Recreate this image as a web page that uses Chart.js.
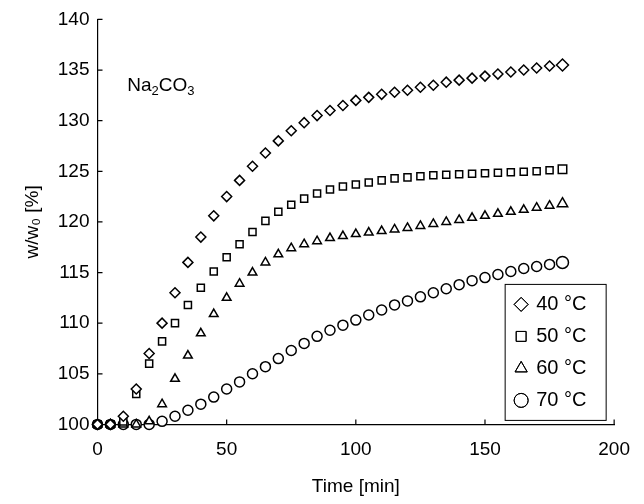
<!DOCTYPE html>
<html>
<head>
<meta charset="utf-8">
<script src="https://cdn.jsdelivr.net/npm/chart.js@4/dist/chart.umd.min.js"></script>
<style>
  body { margin: 0; background: #fff; }
  #wrap { width: 644px; height: 504px; }
</style>
</head>
<body>
<div id="wrap"><canvas id="myChart" width="644" height="504"></canvas></div>
<script>
// time in minutes, every 5 min
var times = [];
for (var t = 0; t <= 180; t += 5) times.push(t);

var labels = ['40 °C', '50 °C', '60 °C', '70 °C'];
var styles = ['rectRot', 'rect', 'triangle', 'circle'];

var w40 = [100,100,100.8,103.5,107,110,113,116,118.5,120.6,122.5,124.1,125.5,126.8,128,129,129.8,130.5,131,131.5,132,132.3,132.6,132.8,133,133.3,133.5,133.8,134,134.2,134.4,134.6,134.8,135,135.2,135.4,135.5];
var w50 = [100,100,100.3,103,106,108.2,110,111.8,113.5,115.1,116.5,117.8,119,120.1,121,121.7,122.3,122.8,123.2,123.5,123.7,123.9,124.1,124.3,124.4,124.5,124.6,124.65,124.7,124.75,124.8,124.85,124.9,124.95,125,125.1,125.2];
var w60 = [100,100,100,100,100.3,102,104.5,106.8,109,110.9,112.5,113.9,115,116,116.8,117.4,117.8,118.1,118.4,118.6,118.8,118.95,119.1,119.25,119.4,119.6,119.8,120,120.2,120.4,120.6,120.8,121,121.2,121.4,121.6,121.8];
var w70 = [100,100,100,100,100,100.3,100.8,101.4,102,102.7,103.5,104.2,105,105.7,106.5,107.3,108,108.7,109.3,109.8,110.3,110.8,111.3,111.8,112.2,112.6,113,113.4,113.8,114.2,114.5,114.8,115.1,115.4,115.6,115.8,116];
var series = [w40, w50, w60, w70];

var xTicks = [0, 50, 100, 150, 200];
var yTicks = [100, 105, 110, 115, 120, 125, 130, 135, 140];

var datasets = series.map(function (vals, i) {
    return {
        label: labels[i],
        data: vals.map(function (v, j) { return { x: times[j], y: v }; }),
        pointStyle: styles[i],
        pointRadius: vals.map(function (v, j) { return j === vals.length - 1 ? 6 : 5; }),
        borderColor: '#000',
        backgroundColor: '#fff',
        borderWidth: 1.5,
        showLine: false,
        clip: false
    };
});

var FONT = 'Arial, "Liberation Sans"';

var overlay = {
    id: 'overlay',
    beforeDatasetsDraw: function (chart) {
        // inward tick marks
        var ctx = chart.ctx, a = chart.chartArea;
        ctx.save();
        ctx.strokeStyle = '#000';
        ctx.lineWidth = 1.2;
        ctx.beginPath();
        xTicks.forEach(function (v) {
            var px = chart.scales.x.getPixelForValue(v);
            ctx.moveTo(px, a.bottom); ctx.lineTo(px, a.bottom - 5);
        });
        yTicks.forEach(function (v) {
            var py = chart.scales.y.getPixelForValue(v);
            ctx.moveTo(a.left, py); ctx.lineTo(a.left + 5, py);
        });
        ctx.stroke();
        ctx.restore();
    },
    afterDraw: function (chart) {
        var ctx = chart.ctx;
        var a = chart.chartArea;
        ctx.save();
        ctx.fillStyle = '#000';
        ctx.textBaseline = 'middle';
        // Na2CO3 label
        var x = chart.scales.x.getPixelForValue(11.5), y = chart.scales.y.getPixelForValue(133.4);
        var parts = [['Na', 0], ['2', 1], ['CO', 0], ['3', 1]];
        parts.forEach(function (p) {
            ctx.font = (p[1] ? '13px ' : '19px ') + FONT;
            ctx.fillText(p[0], x, y + (p[1] ? 5 : 0));
            x += ctx.measureText(p[0]).width;
        });
        // legend box
        var bw = 101, bh = 136;
        var bx = a.right - 109, by = a.bottom - 140;
        ctx.strokeStyle = '#000';
        ctx.lineWidth = 1;
        ctx.fillStyle = '#fff';
        ctx.fillRect(bx, by, bw, bh);
        ctx.strokeRect(bx, by, bw, bh);
        ctx.font = '20px ' + FONT;
        labels.forEach(function (l, i) {
            var cy = by + 20 + i * 32;
            ctx.fillStyle = '#fff';
            Chart.helpers.drawPoint(ctx, { pointStyle: styles[i], radius: 7, borderWidth: 1.2 }, bx + 16, cy);
            ctx.stroke();
            ctx.fillStyle = '#000';
            ctx.fillText(l, bx + 31, cy);
        });
        ctx.restore();
    }
};

var ctx = document.getElementById('myChart').getContext('2d');
var chart = new Chart(ctx, {
    type: 'scatter',
    data: { datasets: datasets },
    plugins: [overlay],
    options: {
        responsive: false,
        animation: false,
        layout: { padding: { top: 0, right: 2, left: 21, bottom: 6 } },
        plugins: { legend: { display: false }, tooltip: { enabled: false } },
        scales: {
            x: {
                type: 'linear', min: 0, max: 200,
                afterBuildTicks: function (s) { s.ticks = xTicks.map(function (v) { return { value: v }; }); },
                grid: { display: false, drawTicks: false },
                border: { color: '#000', width: 1.2 },
                ticks: { color: '#000', padding: 14, font: { size: 19, family: FONT } },
                title: { display: true, text: 'Time [min]', color: '#000', padding: { top: 0, bottom: 0 }, font: { size: 19, family: FONT } }
            },
            y: {
                type: 'linear', min: 100, max: 140,
                afterBuildTicks: function (s) { s.ticks = yTicks.map(function (v) { return { value: v }; }); },
                grid: { display: false, drawTicks: false },
                border: { color: '#000', width: 1.2 },
                ticks: { color: '#000', padding: 8, font: { size: 19, family: FONT } },
                title: { display: true, text: 'w/w₀ [%]', color: '#000', padding: { top: 0, bottom: 6 }, font: { size: 19, family: FONT } }
            }
        }
    }
});
</script>
</body>
</html>
